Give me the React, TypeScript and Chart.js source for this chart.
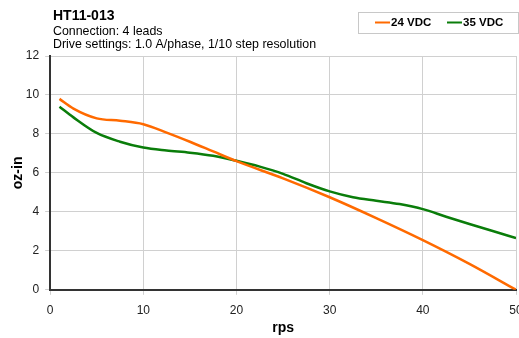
import React, { useEffect, useRef } from "react";
import { Chart, registerables } from "chart.js";

Chart.register(...registerables);

const titleText = "HT11-013";
const subtitleLines = ["Connection: 4 leads", "Drive settings: 1.0 A/phase, 1/10 step resolution"];
const seriesNames = ["24 VDC", "35 VDC"];
const seriesColors = ["#ff6a00", "#0a7d0a"];

const rps24 = [1, 2.5, 5, 7.5, 10, 12.5, 15, 17.5, 20, 25, 30, 35, 40, 45, 50];
const torque24 = [9.8, 9.3, 8.8, 8.68, 8.5, 8.07, 7.6, 7.1, 6.6, 5.72, 4.75, 3.68, 2.55, 1.33, 0];
const rps35 = [1, 2.5, 5, 7.5, 10, 12.5, 15, 17.5, 20, 22.5, 25, 27.5, 30, 32.5, 35, 37.5, 40, 42.5, 45, 47.5, 50];
const torque35 = [9.4, 8.85, 8.05, 7.6, 7.3, 7.15, 7.04, 6.88, 6.62, 6.32, 5.95, 5.47, 5.05, 4.75, 4.57, 4.4, 4.14, 3.75, 3.38, 3.02, 2.65];

const xTitle = "rps";
const yTitle = "oz-in";

const FONT = "'Liberation Sans', Arial, sans-serif";

const headerPlugin = {
  id: "header",
  afterDraw(chart: any) {
    const ctx = chart.ctx;
    ctx.save();
    ctx.fillStyle = "#000";
    ctx.textBaseline = "alphabetic";
    ctx.textAlign = "left";
    ctx.font = `bold 14px ${FONT}`;
    ctx.fillText(titleText, 53, 19.5);
    ctx.font = `12.4px ${FONT}`;
    subtitleLines.forEach((t, i) => ctx.fillText(t, 53, 34.5 + i * 13.5));

    // legend box
    ctx.strokeStyle = "#c8c8c8";
    ctx.lineWidth = 1;
    ctx.strokeRect(358.5, 12.5, 160, 21);
    ctx.font = `bold 11.5px ${FONT}`;
    ctx.textBaseline = "middle";
    const items = [
      { x: 375, name: seriesNames[0], color: seriesColors[0] },
      { x: 447, name: seriesNames[1], color: seriesColors[1] },
    ];
    items.forEach((it) => {
      ctx.strokeStyle = it.color;
      ctx.lineWidth = 2;
      ctx.beginPath();
      ctx.moveTo(it.x, 22.5);
      ctx.lineTo(it.x + 15, 22.5);
      ctx.stroke();
      ctx.fillStyle = "#000";
      ctx.fillText(it.name, it.x + 16, 23);
    });
    ctx.restore();
  },
};

export default function App() {
  const ref = useRef<HTMLCanvasElement | null>(null);
  useEffect(() => {
    if (!ref.current) return;
    const chart = new Chart(ref.current, {
      type: "line",
      data: {
        datasets: [
          {
            label: seriesNames[0],
            data: rps24.map((x, i) => ({ x, y: torque24[i] })),
            borderColor: seriesColors[0],
            backgroundColor: seriesColors[0],
            borderWidth: 2.5,
            pointRadius: 0,
            cubicInterpolationMode: "monotone",
          },
          {
            label: seriesNames[1],
            data: rps35.map((x, i) => ({ x, y: torque35[i] })),
            borderColor: seriesColors[1],
            backgroundColor: seriesColors[1],
            borderWidth: 2.5,
            pointRadius: 0,
            cubicInterpolationMode: "monotone",
          },
        ],
      },
      plugins: [headerPlugin],
      options: {
        responsive: false,
        animation: false,
        layout: { padding: { top: 56, right: 24, left: 10, bottom: 1 } },
        plugins: { legend: { display: false }, tooltip: { enabled: false } },
        scales: {
          x: {
            type: "linear",
            min: 0,
            max: 50,
            ticks: { stepSize: 10, color: "#222", font: { family: FONT, size: 12 }, padding: 9 },
            grid: { color: "#d0d0d0", lineWidth: 1, tickLength: 5, tickColor: "#d0d0d0" },
            border: { color: "#333", width: 2 },
            title: { display: true, text: xTitle, color: "#000", font: { family: FONT, size: 14, weight: "bold" }, padding: { top: -7, bottom: 0 } },
          },
          y: {
            type: "linear",
            min: 0,
            max: 12,
            ticks: { stepSize: 2, color: "#222", font: { family: FONT, size: 12 }, padding: 6 },
            grid: { color: "#d0d0d0", lineWidth: 1, tickLength: 5, tickColor: "#d0d0d0" },
            border: { color: "#333", width: 2 },
            title: { display: true, text: yTitle, color: "#000", font: { family: FONT, size: 14, weight: "bold" }, padding: { top: 0, bottom: -7 } },
          },
        },
      },
    });
    return () => chart.destroy();
  }, []);
  return (
    <div style={{ position: "fixed", left: 0, top: 0, width: 519, height: 338, overflow: "hidden", background: "#fff" }}>
      <canvas ref={ref} width={540} height={338} style={{ display: "block", width: 540, height: 338 }} />
    </div>
  );
}
